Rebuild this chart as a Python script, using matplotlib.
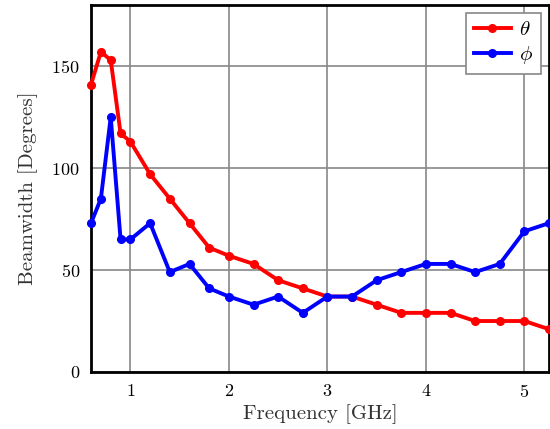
import matplotlib.pyplot as plt

plt.rcParams['font.family'] = 'serif'
plt.rcParams['font.serif'] = ['cmr10']
plt.rcParams['mathtext.fontset'] = 'cm'
plt.rcParams['axes.formatter.use_mathtext'] = True

freq = [0.6, 0.7, 0.8, 0.9, 1.0, 1.2, 1.4, 1.6, 1.8, 2.0, 2.25, 2.5,
        2.75, 3.0, 3.25, 3.5, 3.75, 4.0, 4.25, 4.5, 4.75, 5.0, 5.25]
theta = [141, 157, 153, 117, 113, 97, 85, 73, 61, 57, 53, 45,
         41, 37, 37, 33, 29, 29, 29, 25, 25, 25, 21]
phi = [73, 85, 125, 65, 65, 73, 49, 53, 41, 37, 33, 37,
       29, 37, 37, 45, 49, 53, 53, 49, 53, 69, 73]

fig = plt.figure(figsize=(5.5, 4.29), dpi=100)
ax = fig.add_axes([0.1655, 0.1329, 0.8327, 0.8554])

ax.plot(freq, theta, color='red', lw=2.8, marker='o', ms=5.5, label=r'$\theta$', clip_on=False, zorder=3)
ax.plot(freq, phi, color='blue', lw=2.8, marker='o', ms=5.5, label=r'$\phi$', clip_on=False, zorder=3)

ax.set_xlim(0.6, 5.25)
ax.set_ylim(0, 180)
ax.set_xticks([1, 2, 3, 4, 5])
ax.set_yticks([0, 50, 100, 150])
ax.tick_params(length=0, labelsize=13, pad=8)
ax.grid(True, color='#888888', lw=1.2)
ax.set_axisbelow(True)
for s in ax.spines.values():
    s.set_linewidth(2)
    s.set_color('black')

ax.set_xlabel('Frequency [GHz]', fontsize=15, color='#333333', labelpad=3)
ax.set_ylabel('Beamwidth [Degrees]', fontsize=15, color='#333333', labelpad=10)

leg = ax.legend(loc='upper right', fontsize=15, fancybox=False, edgecolor='#888888',
                framealpha=1, handlelength=1.8, handletextpad=0.4, labelspacing=0.25,
                borderpad=0.35, borderaxespad=0.4)
leg.get_frame().set_linewidth(1.2)

fig.savefig('out.png', dpi=100)
